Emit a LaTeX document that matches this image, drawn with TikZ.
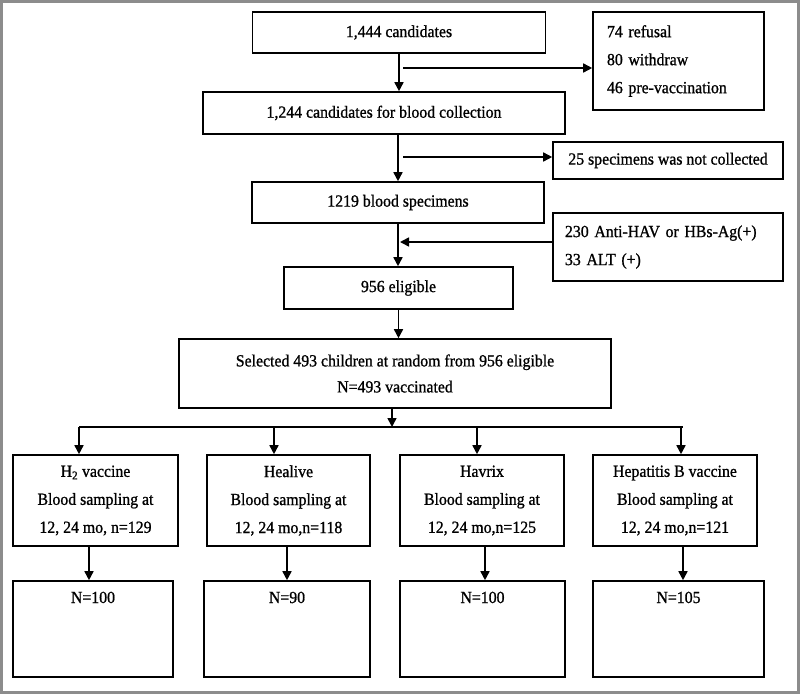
\documentclass[tikz,border=0pt]{standalone}
\usepackage{fontspec}
\setmainfont{Liberation Serif}[FakeStretch=0.93, FakeBold=1]
\usetikzlibrary{arrows.meta, positioning, calc}
\definecolor{frameGray}{HTML}{8C8C8C}

\begin{document}
\begin{tikzpicture}[
  x=1bp, y=-1bp,
  >={Triangle[length=9bp,width=9bp]},
  font=\fontsize{17bp}{28bp}\selectfont,
  stagebox/.style={draw, line width=1.6bp, align=center, inner sep=0pt},
  exclbox/.style={draw, line width=1.6bp, align=left, inner ysep=0pt},
  groupbox/.style={stagebox, minimum height=91bp},
  resultbox/.style={draw, line width=1.6bp, minimum height=96bp, inner sep=0pt},
  flow/.style={->, line width=1.6bp}
]
\useasboundingbox (0,0) rectangle (800,694);
\draw[frameGray, line width=3bp] (1.5,1.5) rectangle (798.5,692.5);

\node[stagebox, minimum width=293bp, minimum height=41bp] (cand) at (399,32.5) {1,444 candidates};
\node[exclbox, text width=143bp, inner xsep=14bp, minimum height=98bp] (excl1) at (678.5,61)
  {74 refusal\\80 withdraw\\46 pre-vaccination};
\node[stagebox, minimum width=362bp, minimum height=42bp] (blood) at (384,113) {1,244 candidates\ for blood collection};
\node[stagebox, minimum width=230bp, minimum height=37bp] (notcol) at (668,160.5) {25 specimens was not collected};
\node[stagebox, minimum width=292bp, minimum height=41bp] (spec) at (398,202.5) {1219 blood specimens};
\node[exclbox, text width=206bp, inner xsep=12bp, minimum height=68bp] (excl2) at (668,247)
  {230 Anti-HAV or HBs-Ag(+)\\33 ALT (+)};
\node[stagebox, minimum width=229bp, minimum height=42bp] (elig) at (398.5,288) {956 eligible};
\node[stagebox, minimum width=432bp, minimum height=69bp, font=\fontsize{17bp}{26bp}\selectfont] (sel) at (395,373.5)
  {Selected 493 children at random from 956 eligible\\N=493 vaccinated};

\node[groupbox, minimum width=165bp] (grpA) at (95.5,500.5) {H\textsubscript{2} vaccine\\Blood sampling at\\12, 24 mo, n=129};
\node[groupbox, minimum width=163bp] (grpB) at (288.5,500.5) {Healive\\Blood sampling at\\12, 24 mo,n=118};
\node[groupbox, minimum width=164bp] (grpC) at (482,500.5) {Havrix\\Blood sampling at\\12, 24 mo,n=125};
\node[groupbox, minimum width=164bp] (grpD) at (675,500.5) {Hepatitis B vaccine\\Blood sampling at\\12, 24 mo,n=121};

\node[resultbox, minimum width=160bp, label={[anchor=north, yshift=-8bp]north:N=100}] (resA) at (93,629) {};
\node[resultbox, minimum width=166bp, label={[anchor=north, yshift=-8bp]north:N=90}] (resB) at (287,629) {};
\node[resultbox, minimum width=165bp, label={[anchor=north, yshift=-8bp]north:N=100}] (resC) at (482.5,629) {};
\node[resultbox, minimum width=171bp, label={[anchor=north, yshift=-8bp]north:N=105}] (resD) at (678.5,629) {};

\coordinate (j1) at (403,68);
\coordinate (j2) at (403,157);
\coordinate (j3) at (400,242);
\coordinate (split) at (392,427);
\coordinate (busL) at (79,427);
\coordinate (busR) at (683,427);

\draw[flow] (cand.south) -- (cand.south |- blood.north);
\draw[flow] (j1) -- (j1 -| excl1.west);
\draw[flow] (spec.north |- blood.south) -- (spec.north);
\draw[flow] (j2) -- (j2 -| notcol.west);
\draw[flow] (spec.south) -- (spec.south |- elig.north);
\draw[flow] (j3 -| excl2.west) -- (j3);
\draw[flow] (elig.south) -- (elig.south |- sel.north);
\draw[flow] (sel.south -| split) -- (split);
\draw[line width=1.6bp] (busL) -- (busR);
\foreach \g/\x in {grpA/79, grpB/274, grpC/477, grpD/681}
  \draw[flow] (\x,427) -- (\g.north -| \x,0);
\foreach \g/\r/\x in {grpA/resA/89, grpB/resB/287, grpC/resC/485, grpD/resD/683}
  \draw[flow] (\g.south -| \x,0) -- (\r.north -| \x,0);
\end{tikzpicture}
\end{document}
